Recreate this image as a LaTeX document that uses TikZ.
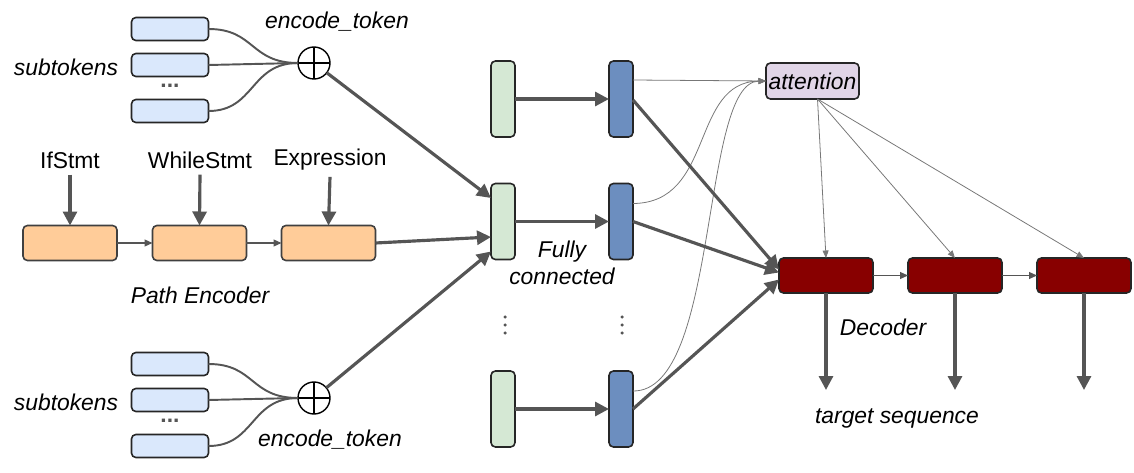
\documentclass[tikz,border=0pt]{standalone}
\usepackage{fontspec}
\setmainfont{Liberation Sans}
\usetikzlibrary{arrows.meta}
\definecolor{ln}{HTML}{555555}
\definecolor{subfill}{HTML}{DAE8FC}
\definecolor{orfill}{HTML}{FFCC99}
\definecolor{grfill}{HTML}{D5E8D4}
\definecolor{blfill}{HTML}{6C8EBF}
\definecolor{atfill}{HTML}{E1D5E7}
\definecolor{dcfill}{HTML}{880000}
\begin{document}
\begin{tikzpicture}[x=0.02cm,y=-0.02cm,
  font=\fontsize{13}{15}\selectfont,
  base/.style={draw=black!85,line width=0.9pt,rounded corners=2.5pt,inner sep=0,outer sep=0},
  subbox/.style={base,fill=subfill,minimum width=1.54cm,minimum height=0.46cm},
  orbox/.style={base,fill=orfill,draw=black!75,minimum width=1.88cm,minimum height=0.7cm},
  grbox/.style={base,fill=grfill,minimum width=0.48cm,minimum height=1.52cm},
  blbox/.style={base,fill=blfill,minimum width=0.48cm,minimum height=1.52cm},
  atbox/.style={base,fill=atfill,minimum width=1.86cm,minimum height=0.72cm},
  dcbox/.style={base,fill=dcfill,minimum width=1.88cm,minimum height=0.7cm},
  plusnode/.style={circle,draw=black,line width=0.8pt,minimum size=0.64cm,inner sep=0,outer sep=0},
  dotmark/.style={circle,fill=ln,minimum size=0.07cm,inner sep=0},
  thick arrow/.style={draw=ln,line width=1.8pt,-{Triangle[length=0.28cm,width=0.28cm]}},
  thin arrow/.style={draw=ln,line width=0.6pt,-{Triangle[length=0.16cm,width=0.14cm]}},
  curve line/.style={draw=ln,line width=1.1pt},
  hair arrow/.style={draw=ln!80,line width=0.45pt,-{Triangle[length=0.15cm,width=0.12cm]}},
  lab/.style={inner sep=1pt,font=\fontsize{13}{15}\selectfont\itshape}
]
\useasboundingbox (0,0) rectangle (1134,473);

% top subtokens
\node[subbox] (s1) at (170,29) {};
\node[subbox] (s2) at (170,65) {};
\node[subbox] (s3) at (170,111) {};
\node[text=ln] (sd1) at (170,86) {\textbf{...}};
\node[plusnode] (p1) at (314,63) {};
\draw[line width=0.8pt] (p1.north) -- (p1.south) (p1.west) -- (p1.east);
\node[lab] (subt1) at (66,67) {subtokens};
\node[lab] (enc1) at (337,22) {encode\_token};
\draw[curve line] (s1.east) .. controls (255,29) and (250,63) .. (p1.west);
\draw[curve line] (s2.east) -- (p1.west);
\draw[curve line] (s3.east) .. controls (255,111) and (250,63) .. (p1.west);

% bottom subtokens
\node[subbox] (s4) at (170,364) {};
\node[subbox] (s5) at (170,400) {};
\node[subbox] (s6) at (170,446) {};
\node[text=ln] (sd2) at (170,421) {\textbf{...}};
\node[plusnode] (p2) at (314,398) {};
\draw[line width=0.8pt] (p2.north) -- (p2.south) (p2.west) -- (p2.east);
\node[lab] (subt2) at (66,402) {subtokens};
\node[lab] (enc2) at (330,440) {encode\_token};
\draw[curve line] (s4.east) .. controls (255,364) and (250,398) .. (p2.west);
\draw[curve line] (s5.east) -- (p2.west);
\draw[curve line] (s6.east) .. controls (255,446) and (250,398) .. (p2.west);

% path encoder
\node[orbox] (o1) at (70,243) {};
\node[orbox] (o2) at (199.5,243) {};
\node[orbox] (o3) at (328.5,243) {};
\node (t1) at (70,160) {IfStmt};
\node (t2) at (200,160) {WhileStmt};
\node (t3) at (330,160) {Expression};
\node[lab] (pe) at (200,295) {Path Encoder};
\draw[thick arrow] (t1.south) -- (o1.north);
\draw[thick arrow] (t2.south) -- (o2.north);
\draw[thick arrow] (t3.south) -- (o3.north);
\draw[thin arrow] (o1.east) -- (o2.west);
\draw[thin arrow] (o2.east) -- (o3.west);

% fully connected
\node[grbox] (g1) at (503,99) {};
\node[grbox] (g2) at (503,221.5) {};
\node[grbox] (g3) at (503,409) {};
\node[blbox] (b1) at (621,99) {};
\node[blbox] (b2) at (621,221.5) {};
\node[blbox] (b3) at (621,409) {};
\node[dotmark] (gd1) at (505,317) {};
\node[dotmark] (gd2) at (505,325) {};
\node[dotmark] (gd3) at (505,333) {};
\node[dotmark] (bd1) at (622,317) {};
\node[dotmark] (bd2) at (622,325) {};
\node[dotmark] (bd3) at (622,333) {};
\node[lab,align=center] (fc) at (562,263) {Fully\\connected};
\draw[thick arrow] (g1.east) -- (b1.west);
\draw[thick arrow] (g2.east) -- (b2.west);
\draw[thick arrow] (g3.east) -- (b3.west);
\draw[thick arrow] (p1) -- ([yshift=0.47cm]g2.west);
\draw[thick arrow] (o3.east) -- ([yshift=-0.31cm]g2.west);
\draw[thick arrow] (p2) -- ([yshift=-0.6cm]g2.west);

% attention
\node[atbox] (at) at (812.5,81) {\itshape attention};
\draw[hair arrow] ([yshift=0.38cm]b1.east) -- (at.west);
\draw[hair arrow] ([yshift=0.36cm]b2.east) .. controls (715,203) and (690,82) .. (at.west);
\draw[hair arrow] ([yshift=0.36cm]b3.east) .. controls (720,392) and (700,82) .. (at.west);

% decoder
\node[dcbox] (d1) at (826,275.5) {};
\node[dcbox] (d2) at (955,275.5) {};
\node[dcbox] (d3) at (1084,275.5) {};
\node[lab] (dec) at (883,327) {Decoder};
\node[lab] (ts) at (897,418) {target sequence};
\coordinate (o1a) at (826,390);
\coordinate (o2a) at (955,390);
\coordinate (o3a) at (1084,390);
\draw[thick arrow] (d1.south) -- (o1a);
\draw[thick arrow] (d2.south) -- (o2a);
\draw[thick arrow] (d3.south) -- (o3a);
\draw[thin arrow] (d1.east) -- (d2.west);
\draw[thin arrow] (d2.east) -- (d3.west);
\draw[thick arrow] ([yshift=-0.02cm]b1.east) -- ([yshift=0.12cm]d1.west);
\draw[thick arrow] (b2.east) -- ([yshift=0.06cm]d1.west);
\draw[thick arrow] (b3.east) -- ([yshift=-0.08cm]d1.west);
\draw[hair arrow] ([xshift=0.1cm]at.south) -- (d1.north);
\draw[hair arrow] ([xshift=0.1cm]at.south) -- (d2.north);
\draw[hair arrow] ([xshift=0.1cm]at.south) -- (d3.north);
\end{tikzpicture}
\end{document}
